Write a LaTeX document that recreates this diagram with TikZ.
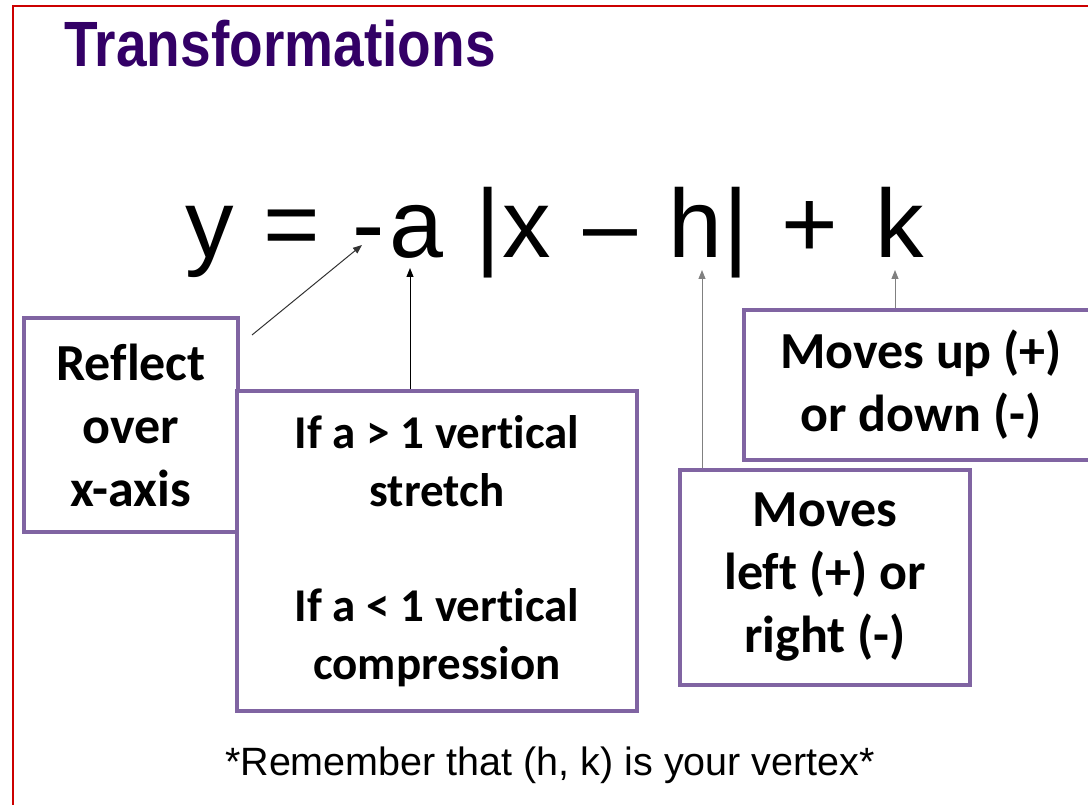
\documentclass[tikz,border=0pt]{standalone}
\usepackage{fontspec}
\setmainfont{Liberation Sans}
\newfontfamily\boxfont[Ligatures={NoCommon}]{Carlito}
\newfontfamily\titlefont[FakeStretch=0.86]{Liberation Sans}
\usetikzlibrary{arrows.meta}
\definecolor{framered}{RGB}{204,0,0}
\definecolor{titlepurple}{RGB}{51,0,102}
\definecolor{boxpurple}{RGB}{128,100,162}
\definecolor{leadgray}{RGB}{128,128,128}
\tikzset{
  notebox/.style={draw=boxpurple, line width=4pt, fill=white, align=center,
    inner sep=0pt, font=\boxfont\bfseries\fontsize{52}{63}\selectfont},
  glyph/.style={inner sep=0pt, anchor=base, font=\fontsize{97}{110}\selectfont},
  lead/.style={-{Triangle[length=9pt,width=7pt]}, line width=1pt},
}
\begin{document}
\begin{tikzpicture}[x=1pt, y=-1pt] % 1 unit = 1 pixel
    \useasboundingbox (0,0) rectangle (1088,805);
    % 1. 红色边框
    \draw[framered, line width=2.5pt] (13,812) -- (13,6) -- (1095,6);
    % 2. 标题
    \node[anchor=base, inner sep=0pt, text=titlepurple,
          font=\titlefont\bfseries\fontsize{64}{77}\selectfont] (title) at (280,67) {Transformations};
    % 3. 方程 y = -a |x - h| + k (逐个字符放置)
    \node[glyph] (eqy)     at (210,258) {y};
    \node[glyph] (eqeq)    at (292,258) {=};
    \node[glyph] (neg)     at (369,258) {-};
    \node[glyph] (coefa)   at (416,258) {a};
    \node[glyph] (barl)    at (488,258) {|};
    \node[glyph] (eqx)     at (527,258) {x};
    \node[glyph] (eqminus) at (610,258) {\textendash};
    \node[glyph] (eqh)     at (695,258) {h};
    \node[glyph] (barr)    at (736,258) {|};
    \node[glyph] (eqplus)  at (810,258) {+};
    \node[glyph] (eqk)     at (900,258) {k};
    % 4. 说明框
    \node[notebox, minimum width=214pt, minimum height=214pt] (reflect) at (131,425)
        {Reflect\\over\\x-axis};
    \node[notebox, minimum width=400pt, minimum height=320pt,
          font=\boxfont\bfseries\fontsize{47}{58}\selectfont] (stretch) at (437,551)
        {If a > 1 vertical\\stretch\\[57pt]If a < 1 vertical\\compression};
    \node[notebox, minimum width=354pt, minimum height=150pt] (shiftv) at (921,385)
        {Moves up (+)\\or down (-)};
    \node[notebox, minimum width=290pt, minimum height=215pt] (shifth) at (825,577)
        {Moves\\left (+) or\\right (-)};
    % 5. 指示箭头
    \coordinate (reflecttail) at (252,335);
    \coordinate (negtip) at (362,245);
    \coordinate (atip) at (410,268);
    \coordinate (htip) at (702,270);
    \coordinate (ktip) at (895,270);
    \draw[lead, black!80] (reflecttail) -- (negtip);
    \draw[lead, black] (atip |- stretch.north) -- (atip);
    \draw[lead, leadgray] (htip |- shifth.north) -- (htip);
    \draw[lead, leadgray] (ktip |- shiftv.north) -- (ktip);
    % 6. 底部提示
    \node[anchor=base, inner sep=0pt, font=\fontsize{39.5}{47}\selectfont] (note) at (550,775)
        {*Remember that (h, k) is your vertex*};
\end{tikzpicture}
\end{document}
